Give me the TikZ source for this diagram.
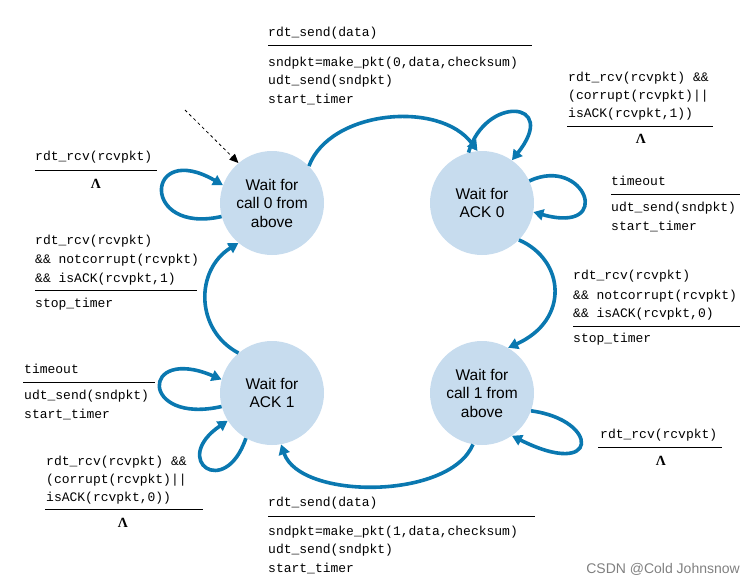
\documentclass[tikz,border=0pt]{standalone}
\usepackage{fontspec}
\setmainfont{Liberation Sans}
\newfontfamily\mymono{Liberation Mono}
\newfontfamily\myserif{Liberation Serif}
\usetikzlibrary{arrows.meta}
\definecolor{arc}{HTML}{0A78B0}
\definecolor{fill}{HTML}{C7DCEE}
\begin{document}
\begin{tikzpicture}[x=1pt,y=-1pt,
 st/.style={circle,fill=fill,minimum size=104pt,inner sep=0pt,align=center,font=\fontsize{15.5}{18.5}\selectfont},
 tr/.style={draw=arc,line width=3.6pt,-{Triangle[length=10pt,width=11pt]}},
 lb/.style={anchor=west,inner sep=0pt,font=\mymono\fontsize{13}{15}\selectfont},
 rl/.style={line width=0.7pt},
 lam/.style={inner sep=0pt,font=\myserif\bfseries\fontsize{14}{16}\selectfont}]
\useasboundingbox (0,0) rectangle (752,586);
\node[st] (a) at (272,203) {Wait for\\call 0 from\\above};
\node[st] (b) at (482,203) {Wait for\\ACK 0};
\node[st] (c) at (272,393) {Wait for\\ACK 1};
\node[st] (d) at (482,393) {Wait for\\call 1 from\\above};
\coordinate (s) at (185,110);
\draw[dashed,line width=0.8pt,-{Triangle[length=9pt,width=8pt]}] (s) -- (a.130);
% main arcs
\draw[tr] (a.45) .. controls (330,110) and (440,100) .. (b.95);
\draw[tr] (b.-45) .. controls (565,260) and (570,320) .. (d.60);
\draw[tr] (d.-100) .. controls (450,500) and (300,500) .. (c.-80);
\draw[tr] (c.130) .. controls (195,330) and (195,270) .. (a.-130);
% self loops
\draw[tr] (a.195) .. controls (140,235) and (145,140) .. (a.160);
\draw[tr] (b.105) .. controls (485,95) and (560,100) .. (b.55);
\draw[tr] (b.25) .. controls (585,155) and (615,235) .. (b.-10);
\draw[tr] (c.195) .. controls (140,425) and (140,345) .. (c.165);
\draw[tr] (c.-120) .. controls (225,500) and (170,460) .. (c.-148);
\draw[tr] (d.-20) .. controls (600,420) and (600,480) .. (d.-55);
% labels
\node[lb] (t1) at (268,33) {rdt\_send(data)};
\draw[rl] (268,45) -- (532,45);
\node[lb] (t2) at (268,63) {sndpkt=make\_pkt(0,data,checksum)};
\node[lb] (t3) at (268,81) {udt\_send(sndpkt)};
\node[lb] (t4) at (268,99) {start\_timer};
\node[lb] at (568,78) {rdt\_rcv(rcvpkt) \&\&};
\node[lb] at (568,96) {(corrupt(rcvpkt)||};
\node[lb] at (568,114) {isACK(rcvpkt,1))};
\draw[rl] (567,126) -- (713,126);
\node[lam] at (641,139) {Λ};
\node[lb] at (611,181) {timeout};
\draw[rl] (611,194) -- (740,194);
\node[lb] at (611,208) {udt\_send(sndpkt)};
\node[lb] at (611,226) {start\_timer};
\node[lb] at (573,276) {rdt\_rcv(rcvpkt)};
\node[lb] at (573,296) {\&\& notcorrupt(rcvpkt)};
\node[lb] at (573,314) {\&\& isACK(rcvpkt,0)};
\draw[rl] (573,326) -- (740,326);
\node[lb] at (573,339) {stop\_timer};
\node[lb] at (600,435) {rdt\_rcv(rcvpkt)};
\draw[rl] (598,447) -- (722,447);
\node[lam] at (661,461) {Λ};
\node[lb] at (268,503) {rdt\_send(data)};
\draw[rl] (268,516) -- (535,516);
\node[lb] at (268,532) {sndpkt=make\_pkt(1,data,checksum)};
\node[lb] at (268,550) {udt\_send(sndpkt)};
\node[lb] at (268,568) {start\_timer};
\node[lb] at (46,462) {rdt\_rcv(rcvpkt) \&\&};
\node[lb] at (46,480) {(corrupt(rcvpkt)||};
\node[lb] at (46,498) {isACK(rcvpkt,0))};
\draw[rl] (45,509) -- (203,509);
\node[lam] at (123,523) {Λ};
\node[lb] at (24,369) {timeout};
\draw[rl] (23,382) -- (155,382);
\node[lb] at (24,396) {udt\_send(sndpkt)};
\node[lb] at (24,414) {start\_timer};
\node[lb] at (35,241) {rdt\_rcv(rcvpkt)};
\node[lb] at (35,260) {\&\& notcorrupt(rcvpkt)};
\node[lb] at (35,279) {\&\& isACK(rcvpkt,1)};
\draw[rl] (35,290) -- (197,290);
\node[lb] at (35,304) {stop\_timer};
\node[lb] at (35,157) {rdt\_rcv(rcvpkt)};
\draw[rl] (35,170) -- (157,170);
\node[lam] at (96,184) {Λ};
\node[anchor=east,inner sep=0pt,text=gray,font=\fontsize{14}{16}\selectfont] at (740,569) {CSDN @Cold Johnsnow};
\end{tikzpicture}
\end{document}
